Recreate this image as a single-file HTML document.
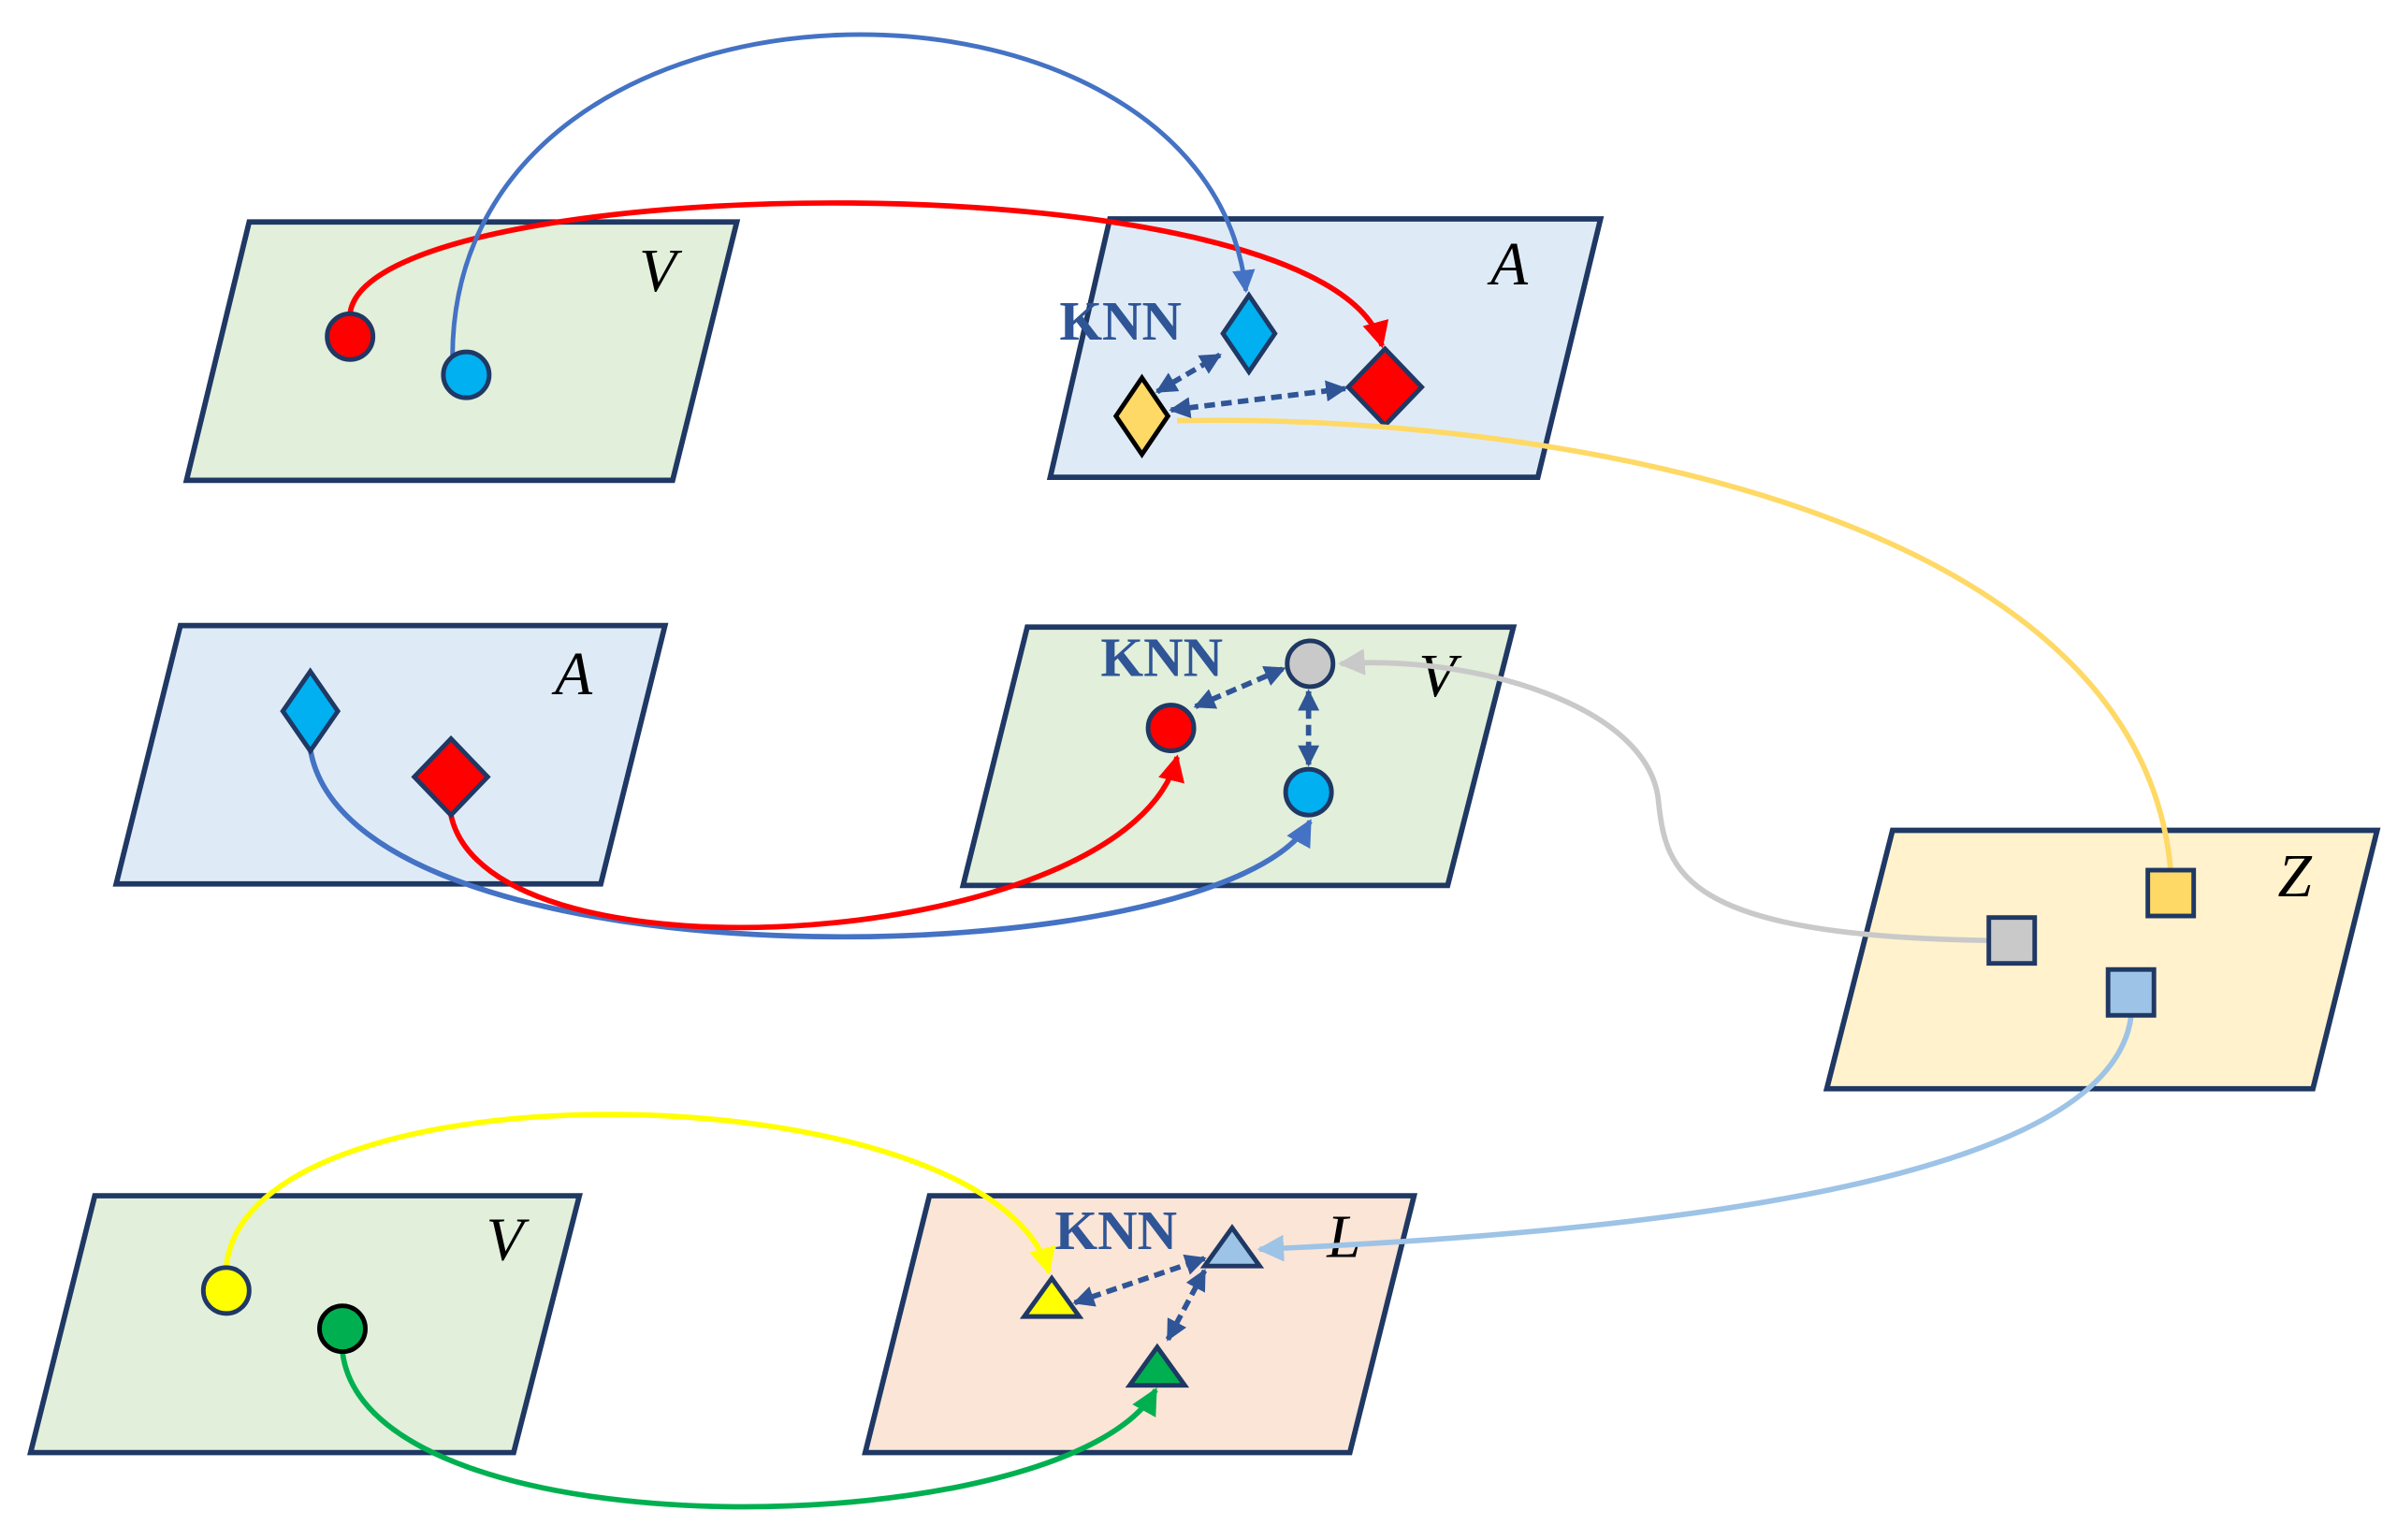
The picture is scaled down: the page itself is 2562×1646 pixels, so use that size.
<!DOCTYPE html>
<html><head><meta charset="utf-8"><style>
html,body{margin:0;padding:0;background:#fff;}
svg{display:block;}
.p{stroke:#1f3864;stroke-width:3.5;}
.lab{font-family:"Liberation Serif",serif;font-style:italic;font-size:40px;fill:#000;}
.knn{font-family:"Liberation Serif",serif;font-weight:bold;font-size:36px;fill:#2f5597;}
.d{stroke:#2f5597;stroke-width:3.5;stroke-dasharray:7 4;fill:none;}
</style></head><body>
<svg width="2562" height="1646" viewBox="0 0 1568 1007" xmlns="http://www.w3.org/2000/svg">
<defs>
<marker id="ab" viewBox="0 0 10 10" refX="9" refY="5" markerWidth="5" markerHeight="5" orient="auto-start-reverse"><path d="M0,0 L10,5 L0,10 z" fill="#4472c4"/></marker>
<marker id="ar" viewBox="0 0 10 10" refX="9" refY="5" markerWidth="5" markerHeight="5" orient="auto-start-reverse"><path d="M0,0 L10,5 L0,10 z" fill="#ff0000"/></marker>
<marker id="ay" viewBox="0 0 10 10" refX="9" refY="5" markerWidth="5" markerHeight="5" orient="auto-start-reverse"><path d="M0,0 L10,5 L0,10 z" fill="#ffff00"/></marker>
<marker id="ag" viewBox="0 0 10 10" refX="9" refY="5" markerWidth="5" markerHeight="5" orient="auto-start-reverse"><path d="M0,0 L10,5 L0,10 z" fill="#00b050"/></marker>
<marker id="agr" viewBox="0 0 10 10" refX="9" refY="5" markerWidth="5" markerHeight="5" orient="auto-start-reverse"><path d="M0,0 L10,5 L0,10 z" fill="#c9c9c9"/></marker>
<marker id="alb" viewBox="0 0 10 10" refX="9" refY="5" markerWidth="5" markerHeight="5" orient="auto-start-reverse"><path d="M0,0 L10,5 L0,10 z" fill="#9dc3e6"/></marker>
<marker id="ad" viewBox="0 0 10 10" refX="9" refY="5" markerWidth="4" markerHeight="4" orient="auto-start-reverse"><path d="M0,0 L10,5 L0,10 z" fill="#2f5597"/></marker>
</defs>

<!-- panels -->
<polygon class="p" points="163,145 482,145 440,314 122,314" fill="#e2efda"/>
<polygon class="p" points="726,143 1047,143 1006,312 687,312" fill="#deebf7"/>
<polygon class="p" points="118,409 435,409 393,578 76,578" fill="#deebf7"/>
<polygon class="p" points="672,410 990,410 947,579 630,579" fill="#e2efda"/>
<polygon class="p" points="1238,543 1555,543 1513,712 1195,712" fill="#fff2cc"/>
<polygon class="p" points="62,782 379,782 336,950 20,950" fill="#e2efda"/>
<polygon class="p" points="608,782 925,782 883,950 566,950" fill="#fbe5d6"/>

<text class="lab" x="418" y="190">V</text>
<text class="lab" x="975" y="186">A</text>
<text class="lab" x="363" y="454">A</text>
<text class="lab" x="928" y="455">V</text>
<text class="lab" x="1490" y="586">Z</text>
<text class="lab" x="318" y="824">V</text>
<text class="lab" x="868" y="822">L</text>

<!-- row 1 -->
<path d="M229,205 C 240,110 870,100 904,226" stroke="#ff0000" stroke-width="3.5" fill="none" marker-end="url(#ar)"/>
<path d="M296,232 C 298,-40 790,-40 815,190" stroke="#4472c4" stroke-width="3" fill="none" marker-end="url(#ab)"/>
<circle cx="229" cy="220" r="15" fill="#ff0000" stroke="#1f3864" stroke-width="3"/>
<circle cx="305" cy="245" r="15" fill="#00b0f0" stroke="#1f3864" stroke-width="3"/>
<text class="knn" x="693" y="222">KNN</text>
<polygon points="817,193 834,218 817,243 800,218" fill="#00b0f0" stroke="#1f3864" stroke-width="3"/>
<polygon points="906,228 930,253 906,278 882,253" fill="#ff0000" stroke="#1f3864" stroke-width="3"/>
<path d="M1420,570 C 1400,330 1000,270 770,275" stroke="#ffd966" stroke-width="3.5" fill="none"/>
<polygon points="747,247 764,272 747,297 730,272" fill="#ffd966" stroke="#000" stroke-width="3"/>
<line class="d" x1="757" y1="256" x2="798" y2="232" marker-start="url(#ad)" marker-end="url(#ad)"/>
<line class="d" x1="766" y1="268" x2="880" y2="254" marker-start="url(#ad)" marker-end="url(#ad)"/>

<!-- row 2 -->
<path d="M203,490 C 230,650 800,640 857,537" stroke="#4472c4" stroke-width="3.5" fill="none" marker-end="url(#ab)"/>
<path d="M295,533 C 320,650 740,620 770,495" stroke="#ff0000" stroke-width="3.5" fill="none" marker-end="url(#ar)"/>
<polygon points="203,439 221,465 203,491 185,465" fill="#00b0f0" stroke="#1f3864" stroke-width="3"/>
<polygon points="295,483 319,508 295,533 271,508" fill="#ff0000" stroke="#1f3864" stroke-width="3"/>
<text class="knn" x="720" y="442">KNN</text>
<path d="M1300,615 C 1100,612 1090,570 1085,525 C 1080,460 960,428 877,434" stroke="#c9c9c9" stroke-width="3.5" fill="none" marker-end="url(#agr)"/>
<circle cx="857" cy="434" r="15" fill="#c9c9c9" stroke="#1f3864" stroke-width="3"/>
<circle cx="766" cy="476" r="15" fill="#ff0000" stroke="#1f3864" stroke-width="3"/>
<circle cx="856" cy="518" r="15" fill="#00b0f0" stroke="#1f3864" stroke-width="3"/>
<line class="d" x1="782" y1="462" x2="840" y2="437" marker-start="url(#ad)" marker-end="url(#ad)"/>
<line class="d" x1="856" y1="452" x2="856" y2="500" marker-start="url(#ad)" marker-end="url(#ad)"/>

<!-- Z squares -->
<path d="M1394,665 C 1380,770 1100,805 824,817" stroke="#9dc3e6" stroke-width="3.5" fill="none" marker-end="url(#alb)"/>
<rect x="1405" y="569" width="30" height="30" fill="#ffd966" stroke="#1f3864" stroke-width="3"/>
<rect x="1301" y="600" width="30" height="30" fill="#c9c9c9" stroke="#1f3864" stroke-width="3"/>
<rect x="1379" y="634" width="30" height="30" fill="#9dc3e6" stroke="#1f3864" stroke-width="3"/>

<!-- row 3 -->
<path d="M148,829 C 160,690 650,700 686,832" stroke="#ffff00" stroke-width="3.5" fill="none" marker-end="url(#ay)"/>
<path d="M224,884 C 240,1020 700,1010 756,909" stroke="#00b050" stroke-width="3.5" fill="none" marker-end="url(#ag)"/>
<circle cx="148" cy="844" r="15" fill="#ffff00" stroke="#1f3864" stroke-width="3"/>
<circle cx="224" cy="869" r="15" fill="#00b050" stroke="#000" stroke-width="3"/>
<text class="knn" x="690" y="817">KNN</text>
<polygon points="688,836 706,861 670,861" fill="#ffff00" stroke="#1f3864" stroke-width="3"/>
<polygon points="806,803 824,828 788,828" fill="#9dc3e6" stroke="#1f3864" stroke-width="3"/>
<polygon points="757,881 775,906 739,906" fill="#00b050" stroke="#1f3864" stroke-width="3"/>
<line class="d" x1="703" y1="852" x2="788" y2="823" marker-start="url(#ad)" marker-end="url(#ad)"/>
<line class="d" x1="764" y1="876" x2="788" y2="831" marker-start="url(#ad)" marker-end="url(#ad)"/>
</svg>
</body></html>
